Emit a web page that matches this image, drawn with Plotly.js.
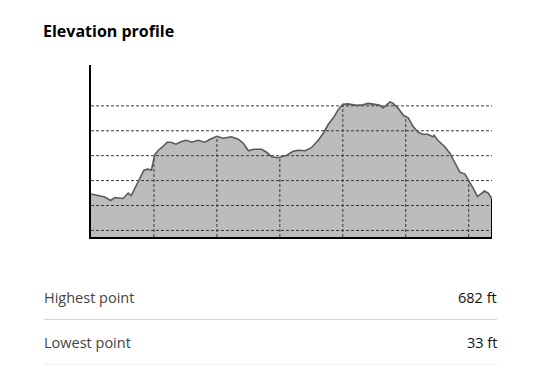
<!DOCTYPE html>
<html>
<head>
<meta charset="utf-8">
<script src="https://cdn.plot.ly/plotly-3.0.1.min.js"></script>
<style>
  html, body { margin: 0; padding: 0; background: #fff; }
  #chart { width: 559px; height: 374px; }
</style>
</head>
<body>
<div id="chart"></div>
<script>
// Distance along route (axis units) and elevation (m)
const distance = [0.00, 0.11, 0.22, 0.31, 0.38, 0.51, 0.59, 0.64, 0.72, 0.77, 0.84, 0.90, 0.96,
  1.01, 1.07, 1.14, 1.21, 1.27, 1.35, 1.43, 1.51, 1.60, 1.70, 1.81, 1.89, 2.00, 2.10, 2.23,
  2.34, 2.42, 2.50, 2.58, 2.71, 2.79, 2.87, 2.97, 3.05, 3.11, 3.21, 3.29, 3.40, 3.50, 3.61,
  3.69, 3.77, 3.85, 3.93, 4.00, 4.08, 4.22, 4.32, 4.40, 4.51, 4.59, 4.64, 4.69, 4.75, 4.80,
  4.88, 4.96, 5.04, 5.12, 5.20, 5.27, 5.35, 5.43, 5.45, 5.51, 5.62, 5.70, 5.78, 5.86, 5.94,
  6.02, 6.07, 6.14, 6.20, 6.25, 6.31, 6.37];
const elevation = [23, 20, 17, 10, 16, 14, 25, 20, 41, 53, 71, 73, 71,
  101, 111, 118, 127, 127, 123, 128, 131, 127, 131, 127, 133, 139, 135, 138,
  133, 125, 110, 113, 113, 107, 98, 96, 98, 101, 109, 111, 110, 116, 131,
  145, 163, 176, 193, 203, 204, 201, 202, 205, 203, 201, 196, 201, 208, 205,
  195, 181, 176, 158, 147, 143, 143, 138, 141, 131, 118, 105, 85, 67, 63,
  47, 35, 18, 25, 29, 25, 13];
const gridElev = [-50, 0, 50, 100, 150, 200];
const gridDist = [1, 2, 3, 4, 5, 6];
const statLabels = ["Highest point", "Lowest point"];
const statValues = ["682 ft", "33 ft"];

const yMin = -63.2, yMax = 282;
const xMin = 0, xMax = distance[distance.length - 1];

function interp(x) {
  for (let i = 1; i < distance.length; i++) {
    if (x <= distance[i]) {
      const t = (x - distance[i - 1]) / (distance[i] - distance[i - 1]);
      return elevation[i - 1] + t * (elevation[i] - elevation[i - 1]);
    }
  }
  return elevation[elevation.length - 1];
}

// filled polygon
const fillX = distance.concat([xMax, xMin]);
const fillY = elevation.concat([yMin, yMin]);

// horizontal grid
const hx = [], hy = [];
gridElev.forEach(v => { hx.push(xMin, xMax, null); hy.push(v, v, null); });
// vertical grid (only under the profile)
const vx = [], vy = [];
gridDist.forEach(d => { vx.push(d, d, null); vy.push(yMin, interp(d), null); });

const dashGrid = "3px,2px";
const traces = [
  { x: fillX, y: fillY, type: 'scatter', mode: 'lines', fill: 'toself',
    fillcolor: '#bcbcbc', line: { width: 0 }, hoverinfo: 'skip' },
  { x: vx, y: vy, type: 'scatter', mode: 'lines',
    line: { color: '#3a3a3a', width: 1, dash: dashGrid }, hoverinfo: 'skip' },
  { x: hx, y: hy, type: 'scatter', mode: 'lines',
    line: { color: '#3a3a3a', width: 1, dash: dashGrid }, hoverinfo: 'skip' },
  { x: distance, y: elevation, type: 'scatter', mode: 'lines',
    line: { color: '#5a5a5a', width: 1.6 }, hoverinfo: 'skip' },
  { x: [xMax, xMax], y: [yMin, elevation[elevation.length - 1]], type: 'scatter', mode: 'lines',
    line: { color: '#000', width: 2 }, hoverinfo: 'skip' }
];

const L = 91, R = 492, T = 64.7, B = 237.3;
const W = 559, H = 374;
const px2x = px => (px - L) / (R - L);
const py2y = py => (B - py) / (B - T);

const rowY = [298, 343];
const sepY = [320, 365];
const sepColor = ['#d4d4d4', '#ececec'];
const annotations = [];
const shapes = [];
statLabels.forEach((lab, i) => {
  annotations.push({ text: lab, xref: 'paper', yref: 'paper', x: px2x(41.5), y: py2y(rowY[i]),
    xanchor: 'left', yanchor: 'middle', showarrow: false,
    font: { family: 'Open Sans', size: 14.5, color: '#444' } });
  annotations.push({ text: statValues[i], xref: 'paper', yref: 'paper', x: px2x(498.5), y: py2y(rowY[i]),
    xanchor: 'right', yanchor: 'middle', showarrow: false,
    font: { family: 'Open Sans', size: 14.5, color: '#111' } });
  shapes.push({ type: 'line', xref: 'paper', yref: 'paper',
    x0: px2x(44), x1: px2x(497), y0: py2y(sepY[i]), y1: py2y(sepY[i]),
    line: { color: sepColor[i], width: 1 } });
});

const layout = {
  width: W, height: H,
  margin: { l: L, r: W - R, t: T, b: H - B, pad: 0 },
  paper_bgcolor: '#fff', plot_bgcolor: '#fff',
  showlegend: false,
  title: { text: '<b>Elevation profile</b>', xref: 'container', yref: 'container',
    x: 43 / W, xanchor: 'left', y: 1 - 31 / H, yanchor: 'middle',
    font: { family: 'Open Sans', size: 16, color: '#000' } },
  xaxis: { range: [xMin, xMax], showgrid: false, zeroline: false, showticklabels: false,
    ticks: '', showline: true, linecolor: '#000', linewidth: 2, fixedrange: true },
  yaxis: { range: [yMin, yMax], showgrid: false, zeroline: false, showticklabels: false,
    ticks: '', showline: true, linecolor: '#000', linewidth: 2, fixedrange: true },
  annotations: annotations,
  shapes: shapes
};

Plotly.newPlot('chart', traces, layout, { staticPlot: true, displayModeBar: false });
</script>
</body>
</html>
